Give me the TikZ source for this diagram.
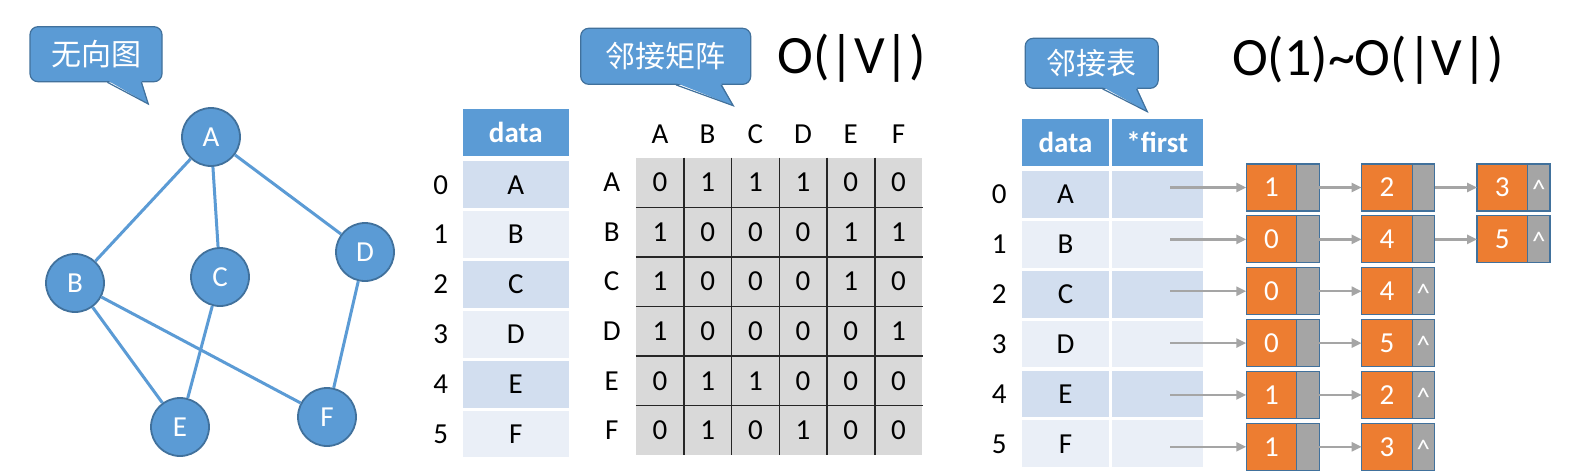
\documentclass[tikz,border=0pt]{standalone}
\usepackage{fontspec}
\setmainfont{Carlito}
\newfontfamily\cjk{Noto Sans CJK SC}
\usepackage{tikz}
\usetikzlibrary{calc,positioning,arrows.meta}
\definecolor{blu}{HTML}{5B9BD5}
\definecolor{bord}{HTML}{41719C}
\definecolor{rowa}{HTML}{D2DEEF}
\definecolor{rowb}{HTML}{EAEFF7}
\definecolor{mgray}{HTML}{D9D9D9}
\definecolor{mline}{HTML}{262626}
\definecolor{orng}{HTML}{ED7D31}
\definecolor{pgray}{HTML}{A5A5A5}

\begin{document}
\begin{tikzpicture}[x=1pt,y=-1pt,
  vtx/.style={circle, fill=blu, draw=bord, line width=1.8pt, minimum size=58pt, inner sep=0pt, text=white, font=\fontsize{29}{33}\selectfont},
  link/.style={blu, line width=3pt},
  bubble/.style={fill=blu, draw=bord, line width=1.2pt, rounded corners=8pt, inner sep=0pt, text=white, font=\cjk\fontsize{30}{34}\selectfont},
  hd/.style={fill=blu, draw=white, line width=3pt, minimum height=49.6pt, inner sep=0pt, text=white, font=\bfseries\fontsize{29}{33}\selectfont},
  rw/.style={draw=white, line width=3pt, minimum height=49.9pt, inner sep=0pt, font=\fontsize{29}{33}\selectfont},
  lbl/.style={inner sep=0pt, font=\fontsize{29}{33}\selectfont},
  cell/.style={fill=mgray, minimum width=47.72pt, minimum height=49.55pt, inner sep=0pt, font=\fontsize{29}{33}\selectfont},
  big/.style={inner sep=0pt, anchor=base, font=\fontsize{54}{60}\selectfont},
  val/.style={fill=orng, draw=bord, line width=1.2pt, outer sep=0pt, minimum width=50.5pt, minimum height=47pt, inner sep=0pt, text=white, font=\fontsize{29}{33}\selectfont},
  nxt/.style={fill=pgray, draw=bord, line width=1.2pt, outer sep=0pt, minimum width=22.5pt, minimum height=47pt, inner sep=0pt, text=white, font=\fontsize{27}{31}\selectfont},
  ar/.style={-{Triangle[length=10pt,width=9pt]}, pgray, line width=2.5pt}]
  \path[use as bounding box, fill=white] (0,0) rectangle (1581,475);
  % undirected graph
  \node[vtx] (A) at (211,137) {A};
  \node[vtx] (B) at (75,283) {B};
  \node[vtx] (C) at (220,277) {C};
  \node[vtx] (D) at (365,252) {D};
  \node[vtx] (E) at (180,427) {E};
  \node[vtx] (F) at (327,417) {F};
  \foreach \u/\v in {A/B,A/C,A/D,B/E,B/F,C/E,D/F} \draw[link] (\u) -- (\v);
  % callouts
  \node[bubble, minimum width=132pt, minimum height=55pt] (cg) at (96,54.2) {无向图};
  \node[bubble, minimum width=170pt, minimum height=56pt] (cm) at (665.7,56.3) {邻接矩阵};
  \node[bubble, minimum width=133pt, minimum height=50pt] (cl) at (1091.7,63.3) {邻接表};
  \coordinate (tg) at (148.3,104);
  \coordinate (tm) at (733.3,105.7);
  \coordinate (tl) at (1147.3,111.7);
  \foreach \n/\a/\b in {g/78/112,m/96/141,l/78/112}{
    \fill[blu] ([xshift=\a pt,yshift=2pt]c\n.south west) -- (t\n) -- ([xshift=\b pt,yshift=2pt]c\n.south west) -- cycle;
    \draw[bord, line width=1.2pt] ([xshift=\a pt]c\n.south west) -- (t\n) -- ([xshift=\b pt]c\n.south west);}
  \node[big] (ov) at (851.7,73.5) {O(|V|)};
  \node[big] (ol) at (1368,75) {O(1)\textasciitilde O(|V|)};
  % adjacency matrix
  \node[hd, minimum width=109.3pt] (h1) at (515.8,132.3) {data};
  \foreach \t/\cc [count=\i from 0] in {A/rowa,B/rowb,C/rowa,D/rowb,E/rowa,F/rowb}{
    \node[lbl] (n\i) at (440.7,184.7+49.86*\i) {\i};
    \node[rw, fill=\cc, minimum width=109.3pt] (d\i) at (515.8,184.7+49.86*\i) {\t};
    \node[lbl] (r\i) at (611.7,182.5+49.55*\i) {\t};
    \node[lbl] (c\i) at (659.9+47.72*\i,134.3) {\t};}
  \foreach \row [count=\i from 0] in {{0,1,1,1,0,0},{1,0,0,0,1,1},{1,0,0,0,1,0},{1,0,0,0,0,1},{0,1,1,0,0,0},{0,1,0,1,0,0}}
    \foreach \v [count=\j from 0] in \row
      \node[cell] (m\i\j) at (659.9+47.72*\j,182.5+49.55*\i) {\v};
  \foreach \k in {0,...,4}{
    \draw[mline, line width=1.6pt] (m0\k.north east) -- (m5\k.south east);
    \draw[mline, line width=1.6pt] (m\k0.south west) -- (m\k5.south east);}
  % adjacency list
  \node[hd, minimum width=90.6pt] (h2) at (1065.5,142.3) {data};
  \node[hd, minimum width=94pt] (h3) at (1157.2,142.3) {*first};
  \foreach \t/\cc [count=\i from 0] in {A/rowa,B/rowb,C/rowa,D/rowb,E/rowa,F/rowb}{
    \node[lbl] (k\i) at (999.3,194.2+49.94*\i) {\i};
    \node[rw, fill=\cc, minimum width=90.6pt] (e\i) at (1065.5,194.2+49.94*\i) {\t};
    \node[rw, fill=\cc, minimum width=94pt] (f\i) at (1157.2,194.2+49.94*\i) {};}
  \foreach \lst [count=\i from 0] in {{1/{},2/{},3/x},{0/{},4/{},5/x},{0/{},4/x},{0/{},5/x},{1/{},2/x},{1/{},3/x}}{
    \foreach \v/\p [count=\k from 1] in \lst{
      \node[val] (o\i\k) at (1271.5+115.4*\k-115.4,187.5+51.86*\i) {\v};
      \node[nxt, right=0pt of o\i\k] (g\i\k) {\if x\p\smash{\raisebox{-0.42em}{\textasciicircum}}\fi};
      \ifnum\k>1
        \pgfmathtruncatemacro\q{\k-1}
        \draw[ar] (g\i\q.east) -- (o\i\k.west);
      \fi}
    \coordinate (s\i) at ([xshift=-76pt]o\i1.west);
    \draw[ar] (s\i) -- (o\i1.west);}
\end{tikzpicture}
\end{document}
